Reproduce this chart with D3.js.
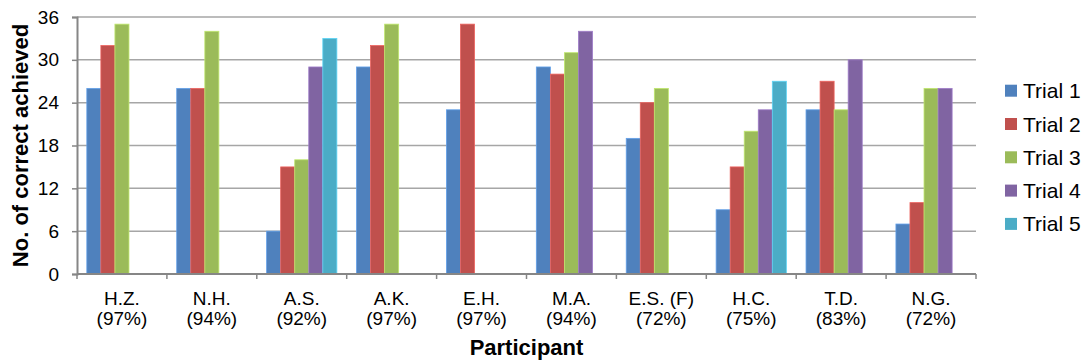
<!DOCTYPE html>
<html>
<head>
<meta charset="utf-8">
<script src="https://cdn.jsdelivr.net/npm/d3@7"></script>
<style>
  html, body { margin: 0; padding: 0; background: #fff; }
  svg { display: block; font-family: Arial, "Liberation Sans", sans-serif; }
</style>
</head>
<body>
<svg id="chart" width="1086" height="362"></svg>
<script>
// Participants (name and overall accuracy shown under each group)
const participants = ["H.Z.", "N.H.", "A.S.", "A.K.", "E.H.", "M.A.", "E.S. (F)", "H.C.", "T.D.", "N.G."];
const accuracy = ["(97%)", "(94%)", "(92%)", "(97%)", "(97%)", "(94%)", "(72%)", "(75%)", "(83%)", "(72%)"];

// Number of correct responses per trial (null = trial not run)
const trial1 = [26, 26, 6, 29, 23, 29, 19, 9, 23, 7];
const trial2 = [32, 26, 15, 32, 35, 28, 24, 15, 27, 10];
const trial3 = [35, 34, 16, 35, null, 31, 26, 20, 23, 26];
const trial4 = [null, null, 29, null, null, 34, null, 23, 30, 26];
const trial5 = [null, null, 33, null, null, null, null, 27, null, null];

const trialNames = ["Trial 1", "Trial 2", "Trial 3", "Trial 4", "Trial 5"];
const trialColors = ["#4F81BD", "#C0504D", "#9BBB59", "#8064A2", "#4BACC6"];
const yTicks = [0, 6, 12, 18, 24, 30, 36];

const series = [trial1, trial2, trial3, trial4, trial5];

const svg = d3.select("#chart");
const plot = { left: 77, right: 976, top: 17, bottom: 274 };

const x = d3.scaleBand()
  .domain(participants)
  .range([plot.left, plot.right])
  .paddingInner(0)
  .paddingOuter(0);

const xInner = d3.scaleBand()
  .domain(trialNames)
  .range([0, x.bandwidth()])
  .paddingOuter(0.7)
  .paddingInner(0);

const y = d3.scaleLinear()
  .domain([0, 36])
  .range([plot.bottom, plot.top]);

// Horizontal gridlines
svg.append("g")
  .selectAll("line")
  .data(yTicks.filter(d => d > 0))
  .join("line")
  .attr("x1", plot.left)
  .attr("x2", plot.right)
  .attr("y1", d => y(d))
  .attr("y2", d => y(d))
  .attr("stroke", "#a6a6a6")
  .attr("stroke-width", 1.5);

// Bars
const rows = [];
participants.forEach((p, i) => {
  series.forEach((s, k) => {
    if (s[i] != null) rows.push({ p, trial: trialNames[k], value: s[i], color: trialColors[k] });
  });
});

svg.append("g")
  .selectAll("rect")
  .data(rows)
  .join("rect")
  .attr("x", d => x(d.p) + xInner(d.trial))
  .attr("y", d => y(d.value))
  .attr("width", xInner.bandwidth())
  .attr("height", d => y(0) - y(d.value))
  .attr("fill", d => d.color)
  .attr("stroke", d => d3.color(d.color).brighter(0.6))
  .attr("stroke-width", 0.8);

// Y axis
const yAxis = d3.axisLeft(y)
  .tickValues(yTicks)
  .tickSize(5)
  .tickPadding(13)
  .tickFormat(d3.format("d"));

const gy = svg.append("g")
  .attr("transform", `translate(${plot.left},0)`)
  .call(yAxis);
gy.select(".domain").attr("stroke", "#868686").attr("stroke-width", 2);
gy.selectAll(".tick line").attr("stroke", "#868686").attr("stroke-width", 1.5);
gy.selectAll(".tick text")
  .attr("font-size", 19)
  .attr("fill", "#000")
  .attr("font-family", "Arial, 'Liberation Sans', sans-serif");

// X axis line and boundary ticks
const boundaries = participants.map(p => x(p)).concat([plot.right]);
svg.append("line")
  .attr("x1", plot.left).attr("x2", plot.right)
  .attr("y1", plot.bottom).attr("y2", plot.bottom)
  .attr("stroke", "#868686").attr("stroke-width", 2);
svg.append("g")
  .selectAll("line")
  .data(boundaries)
  .join("line")
  .attr("x1", d => d).attr("x2", d => d)
  .attr("y1", plot.bottom).attr("y2", plot.bottom + 5)
  .attr("stroke", "#868686").attr("stroke-width", 1.5);

// Category labels (two lines)
const cat = svg.append("g")
  .selectAll("text")
  .data(participants)
  .join("text")
  .attr("x", d => x(d) + x.bandwidth() / 2)
  .attr("text-anchor", "middle")
  .attr("font-size", 19)
  .attr("fill", "#000");
cat.append("tspan")
  .attr("x", d => x(d) + x.bandwidth() / 2)
  .attr("y", 305)
  .text(d => d);
cat.append("tspan")
  .attr("x", d => x(d) + x.bandwidth() / 2)
  .attr("y", 325)
  .text((d, i) => accuracy[i]);

// Axis titles
svg.append("text")
  .attr("x", (plot.left + plot.right) / 2)
  .attr("y", 355)
  .attr("text-anchor", "middle")
  .attr("font-size", 22)
  .attr("font-weight", "bold")
  .text("Participant");

svg.append("text")
  .attr("transform", `translate(28,${(plot.top + plot.bottom) / 2}) rotate(-90)`)
  .attr("text-anchor", "middle")
  .attr("font-size", 22)
  .attr("font-weight", "bold")
  .text("No. of correct achieved");

// Legend
const legend = svg.append("g")
  .selectAll("g")
  .data(trialNames)
  .join("g")
  .attr("transform", (d, i) => `translate(1005,${90.7 + i * 33.3})`);
legend.append("rect")
  .attr("x", 0).attr("y", -6)
  .attr("width", 12).attr("height", 12)
  .attr("fill", (d, i) => trialColors[i]);
legend.append("text")
  .attr("x", 18)
  .attr("y", 7.5)
  .attr("font-size", 21)
  .attr("fill", "#000")
  .text(d => d);
</script>
</body>
</html>
